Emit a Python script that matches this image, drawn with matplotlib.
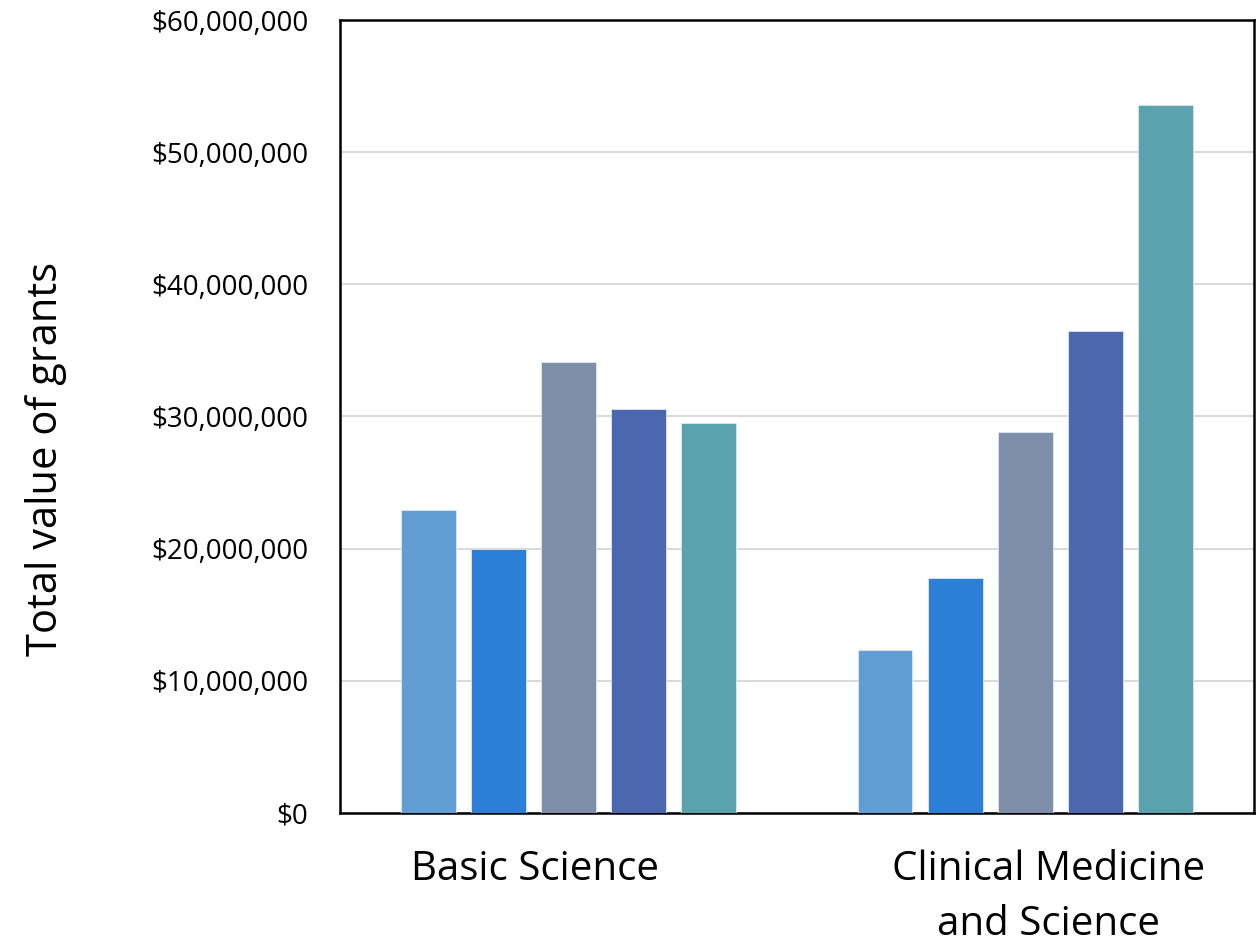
import numpy as np
import matplotlib.pyplot as plt
from matplotlib.ticker import FuncFormatter
from matplotlib.transforms import ScaledTranslation

plt.rcParams['font.family'] = ['Open Sans', 'DejaVu Sans']

categories = ["Basic Science", "Clinical Medicine\nand Science"]
# five series per category, left to right
series_values = [
    [22.9e6, 12.3e6],
    [20.0e6, 17.8e6],
    [34.1e6, 28.8e6],
    [30.6e6, 36.5e6],
    [29.5e6, 53.6e6],
]
colors = ["#619ed3", "#2b7fd7", "#7f8faa", "#4a67b0", "#5aa3ae"]
yticks = np.arange(0, 60e6 + 1, 10e6)

fig = plt.figure(figsize=(12.56, 9.44), dpi=100)
ax = fig.add_axes([0.2707, 0.1388, 0.7275, 0.8400])

x = np.arange(len(categories))
width = 0.12
step = 0.1535
for i, vals in enumerate(series_values):
    offs = (i - 2) * step
    ax.bar(x + offs, vals, width, color=colors[i], edgecolor="#dfe7ef",
           linewidth=0.6, zorder=3)

ax.set_xlim(-0.5, 1.5)
ax.set_ylim(0, 60e6)
ax.set_yticks(yticks)
ax.yaxis.set_major_formatter(FuncFormatter(lambda v, p: "${:,.0f}".format(v)))
ax.tick_params(axis="y", length=0, labelsize=20, pad=23)
ax.set_xticks(x)
ax.set_xticklabels(categories, fontsize=29, linespacing=1.5)
ax.tick_params(axis="x", length=0, pad=26)
# category labels sit a bit off the group centres in the original
for lab, dx in zip(ax.get_xticklabels(), [-33, 23]):
    lab.set_transform(lab.get_transform() + ScaledTranslation(dx / 100, 0, fig.dpi_scale_trans))
ax.grid(axis="y", color="#d9d9d9", linewidth=1.4, zorder=0)
for s in ax.spines.values():
    s.set_color("black")
    s.set_linewidth(1.8)
ax.set_ylabel("Total value of grants", fontsize=30, labelpad=60)
ax.yaxis.label.set_y(0.446)

fig.savefig("out.png", dpi=100)
